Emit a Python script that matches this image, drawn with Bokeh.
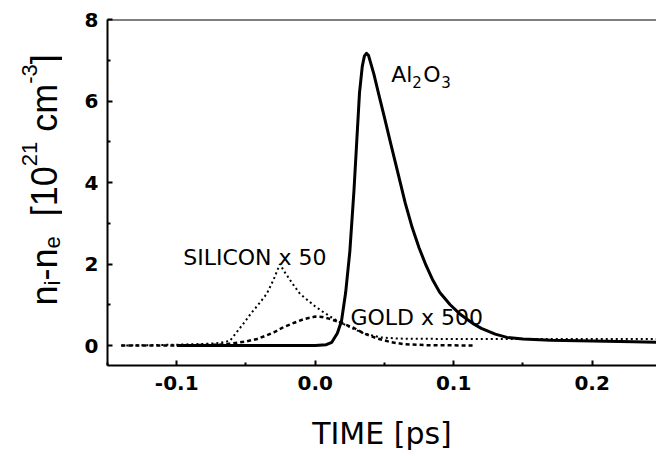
from bokeh.plotting import figure
from bokeh.layouts import row
from bokeh.models import Range1d, FixedTicker, PrintfTickFormatter, Span, Label
from bokeh.core.properties import value
from bokeh.embed import file_html
from bokeh.resources import INLINE

# ---------------- data ----------------
al_x = [-0.10, -0.05, 0.0, 0.008, 0.012, 0.016, 0.019, 0.022, 0.025, 0.028, 0.030,
        0.032, 0.034, 0.0355, 0.037, 0.0385, 0.0423, 0.046, 0.050, 0.0546, 0.060,
        0.065, 0.070, 0.075, 0.080, 0.085, 0.090, 0.0975, 0.105, 0.1144,
        0.120, 0.130, 0.1385, 0.150, 0.170, 0.200, 0.230, 0.2465]
al_y = [0.0, 0.0, 0.0, 0.02, 0.08, 0.3, 0.6, 1.3, 2.3, 3.8, 5.0,
        6.2, 6.85, 7.1, 7.17, 7.12, 6.67, 6.15, 5.6, 4.95, 4.2,
        3.5, 2.9, 2.4, 1.97, 1.6, 1.3, 1.0, 0.76, 0.53,
        0.42, 0.28, 0.2, 0.16, 0.13, 0.11, 0.09, 0.08]

si_x = [-0.14, -0.12, -0.10, -0.08, -0.07, -0.065, -0.0615, -0.055, -0.05, -0.047,
        -0.04, -0.035, -0.03, -0.0255, -0.022, -0.016, -0.011, -0.005, 0.0, 0.005,
        0.010, 0.0157, 0.025, 0.035, 0.047, 0.060, 0.10, 0.15, 0.20, 0.2465]
si_y = [0.0, 0.01, 0.02, 0.04, 0.06, 0.09, 0.12, 0.4, 0.62, 0.76,
        1.05, 1.27, 1.62, 2.0, 1.8, 1.5, 1.27, 1.1, 0.96, 0.84,
        0.73, 0.61, 0.45, 0.3, 0.2, 0.17, 0.16, 0.16, 0.16, 0.16]

au_x = [-0.14, -0.10, -0.07, -0.06, -0.05, -0.042, -0.035, -0.03, -0.023, -0.015,
        -0.008, 0.0, 0.005, 0.010, 0.018, 0.028, 0.035, 0.045, 0.055, 0.065,
        0.080, 0.115]
au_y = [0.0, 0.0, 0.02, 0.05, 0.1, 0.16, 0.25, 0.32, 0.45, 0.56,
        0.65, 0.71, 0.7, 0.66, 0.57, 0.43, 0.3, 0.17, 0.08, 0.03,
        0.01, 0.0]

x_ticks = [-0.1, 0.0, 0.1, 0.2]
x_minor = [-0.15, -0.05, 0.05, 0.15, 0.25]
y_ticks = [0, 2, 4, 6, 8]
y_minor = [1, 3, 5, 7]

TOP, BOTTOM = 19, 91          # frame borders shared by both panels
H = 456
FRAME_BOTTOM = H - BOTTOM

# ---------------- left strip holding the rotated y title ----------------
LW = 62
lf = figure(width=LW, height=H, output_backend="svg", toolbar_location=None,
            x_range=Range1d(0, LW), y_range=Range1d(FRAME_BOTTOM, TOP),
            min_border_left=0, min_border_right=0, min_border_top=TOP,
            min_border_bottom=BOTTOM, x_axis_type=None, y_axis_type=None)
lf.outline_line_color = None
lf.grid.visible = False

W = {"n": .556, "i": .222, "-": .333, "e": .556, " ": .278, "[": .278, "1": .556,
     "0": .556, "2": .556, "c": .5, "m": .833, "3": .556, "]": .278}
MAIN, SMALL = 36, 22
# (text, kind, gap in spaces before it); kind 0 = normal, 1 = subscript, -1 = superscript
pieces = [("n", 0, 0), ("i", 1, 0), ("-n", 0, 0), ("e", 1, 0), ("[10", 0, 2),
          ("21", -1, 0), ("cm", 0, 1), ("-3", -1, 0), ("]", 0, 0)]
BASE_X, START_Y = 44, 305
pos = 0.0
for t, kind, gap in pieces:
    fs = MAIN if kind == 0 else SMALL
    pos += gap * W[" "] * MAIN
    shift = 0 if kind == 0 else (8 if kind == 1 else -15)
    lf.text(x=[BASE_X + shift], y=[START_Y - pos], text=[t], angle=1.5707963,
            text_font=value("Liberation Sans"), text_font_size=value(f"{fs}px"),
            text_color="black", text_baseline="alphabetic", text_align="left")
    pos += sum(W[c] for c in t) * fs

# ---------------- main figure ----------------
X0, X1 = -0.15, 0.2465
Y0, Y1 = -0.49, 8.0

p = figure(width=656 - LW, height=H, output_backend="svg", toolbar_location=None,
           x_range=Range1d(X0, X1), y_range=Range1d(Y0, Y1),
           min_border_left=107 - LW, min_border_right=0, min_border_top=TOP,
           min_border_bottom=BOTTOM)
p.outline_line_color = None
p.grid.visible = False
p.background_fill_color = "white"
p.border_fill_color = "white"

tick_font = "DejaVu Sans"
for ax in (p.xaxis[0], p.yaxis[0]):
    ax.axis_line_width = 2
    ax.axis_line_color = "black"
    ax.major_tick_in = 5
    ax.major_tick_out = 0
    ax.minor_tick_in = 3
    ax.minor_tick_out = 0
    ax.major_tick_line_width = 2
    ax.minor_tick_line_width = 2
    ax.major_label_text_font = tick_font
    ax.major_label_text_font_style = "bold"
    ax.major_label_text_font_size = "20px"
    ax.major_label_text_color = "black"

p.xaxis[0].ticker = FixedTicker(ticks=x_ticks, minor_ticks=x_minor)
p.xaxis[0].formatter = PrintfTickFormatter(format="%.1f")
p.xaxis[0].major_label_standoff = 10
p.xaxis[0].axis_label = "TIME [ps]"
p.xaxis[0].axis_label_text_font = "DejaVu Sans"
p.xaxis[0].axis_label_text_font_style = "normal"
p.xaxis[0].axis_label_text_font_size = "30px"
p.xaxis[0].axis_label_text_color = "black"
p.xaxis[0].axis_label_standoff = 23

p.yaxis[0].ticker = FixedTicker(ticks=y_ticks, minor_ticks=y_minor)
p.yaxis[0].formatter = PrintfTickFormatter(format="%d")
p.yaxis[0].major_label_standoff = 9

p.add_layout(Span(location=Y1, dimension="width", line_color="black", line_width=2))

# ---------------- curves ----------------
p.line(au_x, au_y, line_color="black", line_width=2.5, line_dash="4 3")
p.line(si_x, si_y, line_color="black", line_width=2, line_dash="2 3")
p.line(al_x, al_y, line_color="black", line_width=3, line_join="round")

# ---------------- annotations ----------------
ann_font = "DejaVu Sans"
LIFT = 8
p.add_layout(Label(x=-0.0953, y=1.963, text="SILICON x 50", text_font=ann_font,
                   text_font_size="22px", text_color="black",
                   text_baseline="alphabetic", y_offset=LIFT))
p.add_layout(Label(x=0.0255, y=0.491, text="GOLD x 500", text_font=ann_font,
                   text_font_size="22px", text_color="black",
                   text_baseline="alphabetic", y_offset=LIFT))
al_pieces = [("Al", 22, 0, 0), ("2", 15, 21, -8), ("O", 22, 32, 0), ("3", 15, 50, -8)]
for t, fs, dx, dy in al_pieces:
    p.add_layout(Label(x=0.0549, y=6.46, text=t, text_font=ann_font,
                       text_font_size=f"{fs}px", text_color="black",
                       text_baseline="alphabetic", x_offset=dx, y_offset=dy + LIFT))

layout = row(lf, p, spacing=0)
open("out.html", "w").write(file_html(layout, INLINE))
